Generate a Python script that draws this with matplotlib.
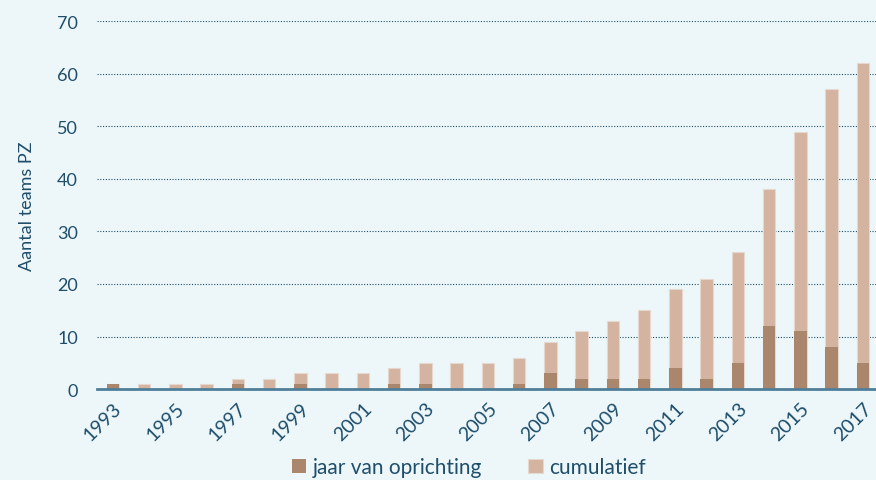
import numpy as np
import matplotlib.pyplot as plt

jaren = list(range(1993, 2018))
oprichting = [1, 0, 0, 0, 1, 0, 1, 0, 0, 1, 1, 0, 0, 1, 3, 2, 2, 2, 4, 2, 5, 12, 11, 8, 5]
cumulatief = [1, 1, 1, 1, 2, 2, 3, 3, 3, 4, 5, 5, 5, 6, 9, 11, 13, 15, 19, 21, 26, 38, 49, 57, 62]

bg = '#edf7f9'
tekst = '#1f4e6b'

plt.rcParams['font.family'] = ['Lato', 'DejaVu Sans']

fig = plt.figure(figsize=(8.76, 4.81), dpi=100, facecolor=bg)
ax = fig.add_axes([0.111, 0.189, 0.892, 0.765], facecolor=bg)

x = np.arange(len(jaren))
ax.bar(x, cumulatief, width=0.4, color='#d4b3a0', edgecolor='#e6d8cf', linewidth=0.8,
       label='cumulatief', zorder=2)
ax.bar(x, oprichting, width=0.4, color='#a9866c', label='jaar van oprichting', zorder=3)

ax.set_xlim(-0.5, len(jaren) - 0.5)
ax.set_ylim(0, 70)
ax.set_yticks(range(0, 71, 10))
ax.set_xticks(x[::2])
ax.set_xticklabels([str(j) for j in jaren[::2]], rotation=45, ha='right',
                   rotation_mode='anchor', color=tekst, fontsize=14)
ax.tick_params(axis='y', colors=tekst, labelsize=13, length=0, pad=14)
ax.tick_params(axis='x', length=0, pad=7)
ax.yaxis.grid(True, linestyle=(0, (1, 1.5)), color='#1f4e6b', linewidth=0.8)
ax.set_axisbelow(True)
for s in ['top', 'right', 'left']:
    ax.spines[s].set_visible(False)
ax.spines['bottom'].set_color('#4f7f99')
ax.spines['bottom'].set_linewidth(2)
ax.spines['bottom'].set_zorder(4)

ax.set_ylabel('Aantal teams PZ', color=tekst, fontsize=13, labelpad=16)

h, l = ax.get_legend_handles_labels()
fig.legend(h[::-1], l[::-1], loc='center', bbox_to_anchor=(0.535, 0.026), ncol=2,
           frameon=False, fontsize=15, labelcolor=tekst, handlelength=0.7,
           handleheight=0.7, handletextpad=0.3, columnspacing=2.2)

fig.savefig('out.png', dpi=100, facecolor=bg)
